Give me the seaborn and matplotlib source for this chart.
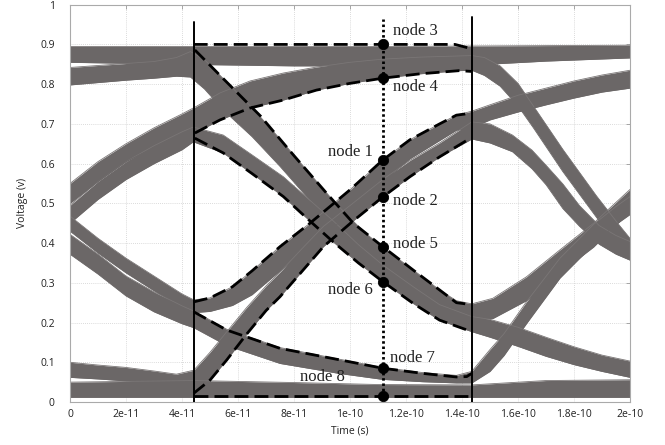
import numpy as np
import pandas as pd
import matplotlib
matplotlib.use("Agg")
import matplotlib.pyplot as plt
import seaborn as sns

T = 1e-11  # time unit used in the tables below (seconds)

# ---------------- eye-diagram bundles (time in units of 1e-11 s) ----------------
top_x  = [0, 4, 8, 12, 14.35, 17, 20]
top_lo = [0.855, 0.85, 0.846, 0.846, 0.848, 0.858, 0.866]
top_hi = [0.895, 0.895, 0.895, 0.895, 0.896, 0.897, 0.898]

f1_x  = [0, 1, 2, 3, 3.8, 4.3, 4.8, 5.5, 6.5, 7.5, 8.5, 9.5, 10.5, 11.2, 12.3, 13.2, 13.8, 14.35, 15.1, 16.3, 17.5, 18.7, 19.2, 20]
f1_hi = [0.842, 0.847, 0.852, 0.857, 0.867, 0.882, 0.862, 0.812, 0.741, 0.662, 0.58, 0.499, 0.428, 0.388, 0.33, 0.282, 0.255, 0.247, 0.261, 0.315, 0.383, 0.45, 0.483, 0.535]
f1_lo = [0.798, 0.804, 0.81, 0.815, 0.82, 0.818, 0.788, 0.733, 0.668, 0.593, 0.513, 0.435, 0.37, 0.33, 0.28, 0.24, 0.215, 0.205, 0.21, 0.255, 0.325, 0.39, 0.425, 0.48]

f2_x  = [0, 1, 2, 3, 4, 4.4, 5.47, 6.5, 7.62, 8.5, 9.4, 10.3, 11.17, 12.26, 13.2, 14.35, 15, 16, 17, 18, 19, 20]
f2_lo = [0.45, 0.51, 0.56, 0.6, 0.635, 0.655, 0.627, 0.575, 0.517, 0.46, 0.403, 0.35, 0.303, 0.248, 0.206, 0.177, 0.163, 0.14, 0.115, 0.094, 0.077, 0.062]
f2_hi = [0.495, 0.555, 0.605, 0.645, 0.68, 0.692, 0.672, 0.622, 0.567, 0.512, 0.456, 0.396, 0.345, 0.29, 0.245, 0.215, 0.208, 0.188, 0.163, 0.139, 0.118, 0.103]

r4_x  = [0, 1, 2, 3, 4, 4.46, 5.36, 6.43, 7.62, 8.8, 10, 11.17, 12.5, 13.9, 14.35, 14.8, 15.36, 16.0, 16.55, 17.6, 18.8, 19.64, 20]
r4_lo = [0.50, 0.555, 0.605, 0.64, 0.672, 0.677, 0.71, 0.74, 0.76, 0.785, 0.802, 0.815, 0.826, 0.834, 0.835, 0.822, 0.795, 0.745, 0.69, 0.58, 0.465, 0.39, 0.36]
r4_hi = [0.55, 0.605, 0.65, 0.69, 0.725, 0.742, 0.778, 0.808, 0.828, 0.843, 0.855, 0.863, 0.868, 0.871, 0.872, 0.867, 0.846, 0.802, 0.745, 0.636, 0.519, 0.443, 0.412]

r1_x  = [0, 1, 2, 3, 4, 4.42, 5.0, 5.8, 6.5, 7.5, 8.57, 10, 11.17, 12.14, 13.2, 13.8, 14.35, 15, 16, 17, 18, 19, 20]
r1_hi = [0.468, 0.412, 0.362, 0.317, 0.272, 0.257, 0.262, 0.29, 0.33, 0.391, 0.45, 0.534, 0.609, 0.66, 0.70, 0.722, 0.732, 0.748, 0.772, 0.79, 0.808, 0.823, 0.835]
r1_lo = [0.43, 0.375, 0.325, 0.28, 0.238, 0.225, 0.228, 0.243, 0.27, 0.33, 0.39, 0.475, 0.555, 0.612, 0.658, 0.684, 0.69, 0.71, 0.73, 0.748, 0.765, 0.78, 0.79]

r2_x  = [0, 1, 2, 3, 3.8, 4.42, 5.0, 5.6, 6.3, 7.0, 7.5, 8.3, 9.05, 10.1, 11.17, 12.14, 13.2, 14.35, 15.0, 15.8, 16.5, 17.0, 17.6, 18.2, 18.9, 19.5, 20]
r2_lo = [0.062, 0.058, 0.053, 0.048, 0.043, 0.022, 0.055, 0.106, 0.17, 0.23, 0.265, 0.33, 0.391, 0.455, 0.516, 0.567, 0.617, 0.662, 0.652, 0.63, 0.587, 0.547, 0.487, 0.442, 0.397, 0.372, 0.357]
r2_hi = [0.1, 0.093, 0.087, 0.078, 0.07, 0.08, 0.125, 0.177, 0.237, 0.292, 0.327, 0.387, 0.442, 0.5, 0.56, 0.608, 0.652, 0.705, 0.7, 0.672, 0.634, 0.596, 0.549, 0.494, 0.444, 0.419, 0.404]

n7_x  = [0, 1, 2, 3, 4, 4.42, 5.6, 7.5, 9.6, 11.15, 12.6, 13.8, 14.35, 15.0, 15.5, 16.3, 17.5, 18.7, 19.5, 20]
n7_hi = [0.422, 0.372, 0.317, 0.277, 0.242, 0.229, 0.183, 0.137, 0.108, 0.087, 0.074, 0.067, 0.077, 0.132, 0.172, 0.252, 0.362, 0.447, 0.492, 0.517]
n7_lo = [0.372, 0.322, 0.267, 0.227, 0.197, 0.187, 0.142, 0.097, 0.072, 0.057, 0.051, 0.048, 0.048, 0.077, 0.117, 0.197, 0.312, 0.397, 0.447, 0.472]

bot_x  = [0, 4.42, 8, 11, 14.35, 17, 20]
bot_lo = [0.012, 0.012, 0.012, 0.012, 0.012, 0.012, 0.012]
bot_hi = [0.05, 0.054, 0.049, 0.044, 0.043, 0.054, 0.056]

# ---------------- dashed node envelopes ----------------
n3_env_x = [4.42, 13.75, 14.35]
n3_env_y = [0.90, 0.90, 0.889]
n4_env_x = [4.46, 5.36, 6.43, 7.62, 8.8, 10, 11.17, 12.5, 13.9, 14.35]
n4_env_y = [0.677, 0.71, 0.74, 0.76, 0.785, 0.802, 0.815, 0.826, 0.834, 0.832]
n5_env_x = [4.46, 5.5, 6.8, 8.0, 9.17, 10.12, 11.17, 12.26, 13.2, 13.8, 14.35]
n5_env_y = [0.886, 0.812, 0.72, 0.62, 0.525, 0.45, 0.391, 0.332, 0.282, 0.25, 0.245]
n6_env_x = [4.46, 5.47, 6.5, 7.62, 8.5, 9.4, 10.3, 11.17, 12.26, 13.2, 14.35]
n6_env_y = [0.664, 0.627, 0.575, 0.517, 0.46, 0.403, 0.35, 0.303, 0.248, 0.206, 0.177]
n1_env_x = [4.42, 5.0, 5.8, 6.5, 7.5, 8.57, 10, 11.17, 12.14, 13.2, 13.8, 14.35]
n1_env_y = [0.252, 0.262, 0.29, 0.33, 0.391, 0.45, 0.534, 0.609, 0.66, 0.70, 0.722, 0.727]
n2_env_x = [4.42, 5.0, 5.6, 6.3, 7.0, 7.5, 8.3, 9.05, 10.1, 11.17, 12.14, 13.2, 14.3]
n2_env_y = [0.022, 0.055, 0.106, 0.17, 0.23, 0.265, 0.33, 0.391, 0.455, 0.516, 0.567, 0.617, 0.664]
n7_env_x = [4.42, 5.6, 7.5, 9.64, 11.17, 12.6, 13.8, 14.17, 14.35]
n7_env_y = [0.227, 0.181, 0.135, 0.106, 0.085, 0.072, 0.063, 0.064, 0.072]
n8_env_x = [4.42, 14.35]
n8_env_y = [0.014, 0.014]

# ---------------- sampling instant / nodes ----------------
sample_t = 11.17
node_names = ["node 3", "node 4", "node 1", "node 2", "node 5", "node 6", "node 7", "node 8"]
node_vals  = [0.90, 0.815, 0.609, 0.516, 0.391, 0.303, 0.085, 0.014]
label_x    = [11.54, 11.54, 10.83, 11.54, 11.54, 10.83, 11.43, 8.21]
label_y    = [0.934, 0.793, 0.628, 0.506, 0.398, 0.282, 0.112, 0.063]
label_ha   = ["left", "left", "right", "left", "left", "right", "left", "left"]
eye_left, eye_right = 4.42, 14.35

xticks = [0, 2, 4, 6, 8, 10, 12, 14, 16, 18, 20]
xtick_labels = ["0", "2e-11", "4e-11", "6e-11", "8e-11", "1e-10", "1.2e-10", "1.4e-10", "1.6e-10", "1.8e-10", "2e-10"]
yticks = [0, 0.1, 0.2, 0.3, 0.4, 0.5, 0.6, 0.7, 0.8, 0.9, 1]
ytick_labels = ["0", "0.1", "0.2", "0.3", "0.4", "0.5", "0.6", "0.7", "0.8", "0.9", "1"]

# ---------------- drawing ----------------
sns.set_style("white")
plt.rcParams["font.family"] = ["Open Sans", "DejaVu Sans"]

fig = plt.figure(figsize=(6.65, 4.45), dpi=100)
ax = fig.add_axes([70 / 665, 1 - 402 / 445, 560 / 665, 397.3 / 445])

GRAY = "#6b6767"
bands = [(top_x, top_lo, top_hi), (f1_x, f1_lo, f1_hi), (f2_x, f2_lo, f2_hi),
         (r4_x, r4_lo, r4_hi), (r1_x, r1_lo, r1_hi), (r2_x, r2_lo, r2_hi),
         (n7_x, n7_lo, n7_hi), (bot_x, bot_lo, bot_hi)]
for bx, blo, bhi in bands:
    t = np.asarray(bx) * T
    ax.fill_between(t, blo, bhi, color=GRAY, lw=0, zorder=2)
    sns.lineplot(x=t, y=bhi, ax=ax, color="#7a7676", lw=0.6, zorder=2.5)
    sns.lineplot(x=t, y=blo, ax=ax, color=GRAY, lw=0.6, zorder=2.5)

envs = [(n3_env_x, n3_env_y), (n4_env_x, n4_env_y), (n5_env_x, n5_env_y), (n6_env_x, n6_env_y),
        (n1_env_x, n1_env_y), (n2_env_x, n2_env_y), (n7_env_x, n7_env_y), (n8_env_x, n8_env_y)]
for ex, ey in envs:
    sns.lineplot(x=np.asarray(ex) * T, y=ey, ax=ax, color="black", lw=2.0,
                 linestyle=(0, (5.0, 2.2)), zorder=4)

# eye borders and sampling instant
ax.plot([eye_left * T, eye_left * T], [0, 0.957], color="black", lw=1.4, zorder=5)
ax.plot([eye_right * T, eye_right * T], [0, 0.97], color="black", lw=1.4, zorder=5)
ax.plot([sample_t * T, sample_t * T], [0.014, 0.965], color="black", lw=2.0,
        linestyle=(0, (0.9, 1.0)), zorder=5)

node_df = pd.DataFrame({"t": [sample_t * T] * len(node_vals), "v": node_vals, "node": node_names})
sns.scatterplot(data=node_df, x="t", y="v", ax=ax, color="black", s=55, edgecolor="black", zorder=6)

for name, lx, ly, ha in zip(node_names, label_x, label_y, label_ha):
    ax.text(lx * T, ly, name, ha=ha, va="center", fontsize=12,
            family=["Liberation Serif", "DejaVu Serif"], color="#222222", zorder=7)

ax.set_xlim(0, 20 * T)
ax.set_ylim(0, 1)
ax.set_xticks(np.asarray(xticks) * T)
ax.set_xticklabels(xtick_labels)
ax.set_yticks(yticks)
ax.set_yticklabels(ytick_labels)
ax.tick_params(axis="both", direction="in", length=3, width=0.6, color="#999999",
               labelsize=7.5, labelcolor="#222222", top=True, right=True)
ax.tick_params(axis="y", pad=11)
ax.tick_params(axis="x", pad=5)
ax.grid(True, color="#cfcfcf", lw=0.6, linestyle=(0, (1, 1.5)), zorder=0)
ax.set_axisbelow(True)
for sp in ax.spines.values():
    sp.set_color("#aaaaaa")
    sp.set_linewidth(0.8)
ax.set_xlabel("Time (s)", fontsize=7.5, labelpad=4, color="#222222")
ax.set_ylabel("Voltage (v)", fontsize=7.5, labelpad=9, color="#222222")
if ax.get_legend() is not None:
    ax.get_legend().remove()

fig.savefig("out.png", dpi=100)
